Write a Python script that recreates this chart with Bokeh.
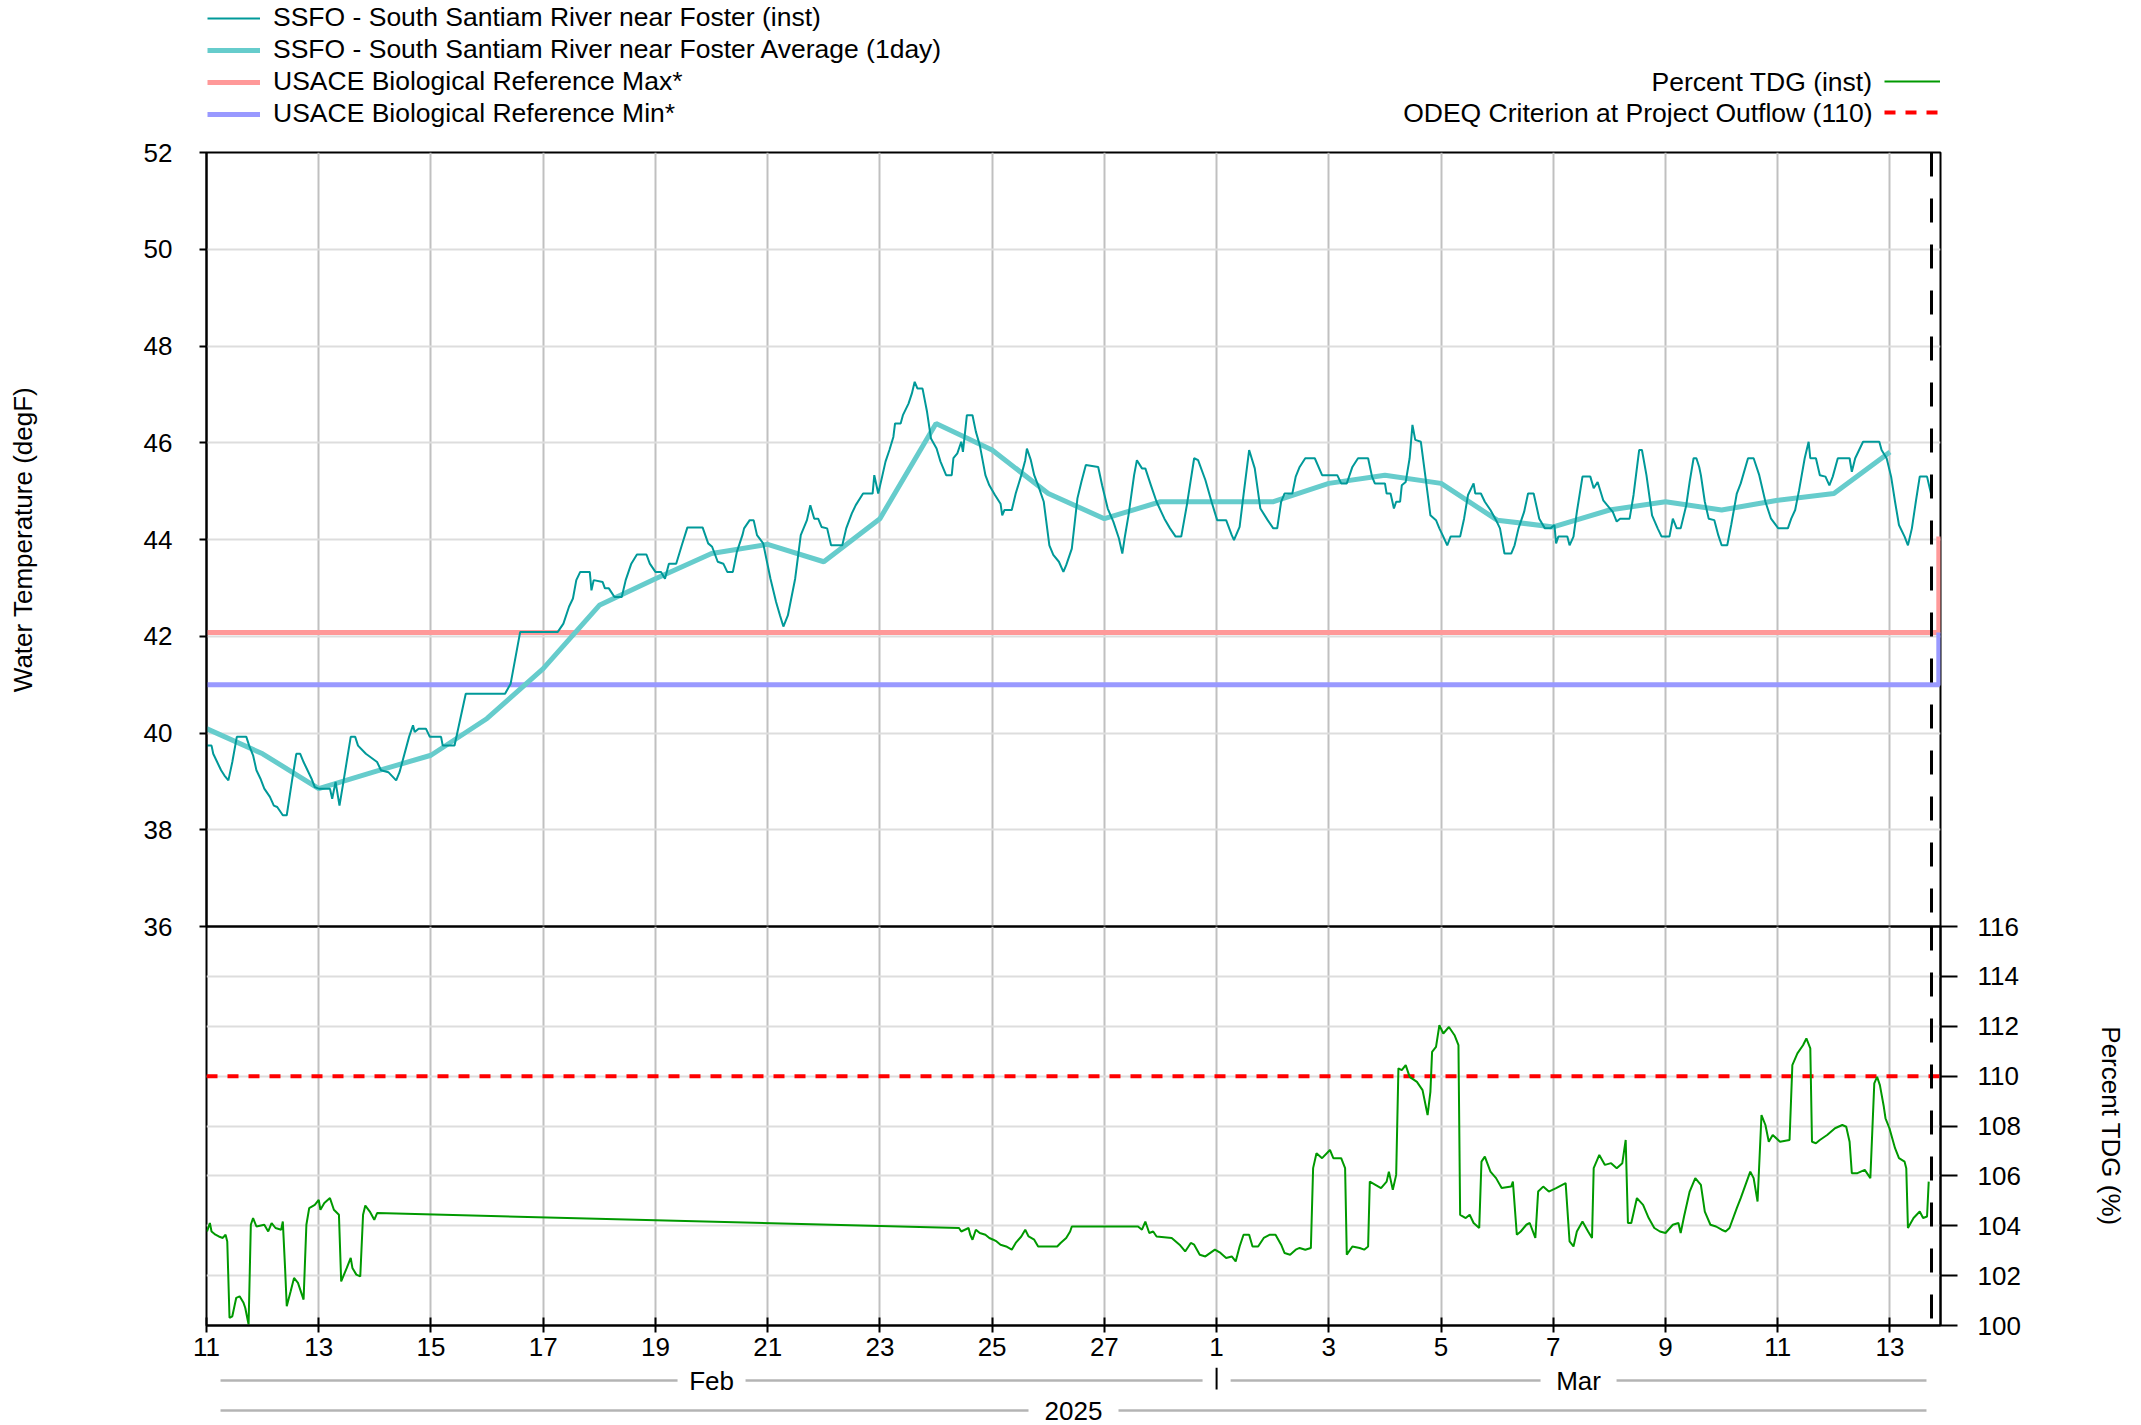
from datetime import datetime, timedelta
from bokeh.plotting import figure
from bokeh.layouts import column
from bokeh.models import (Range1d, FixedTicker, Span, Legend, LegendItem, Label,
                          Grid, CustomJSTickFormatter)
from bokeh.core.properties import value
from bokeh.embed import file_html
from bokeh.resources import INLINE

# ---------------- data ----------------
START = datetime(2025, 2, 11)
END_DAY = 30.90          # right edge of the plot (days after Feb 11)
NOW_DAY = 30.74          # dashed "now" marker

temp_inst_day = [
    0.01, 0.09, 0.12, 0.19, 0.26, 0.32, 0.39, 0.46, 0.54, 0.71, 0.76, 0.83, 0.89, 0.96, 1.03, 1.13,
    1.20, 1.26, 1.36, 1.43, 1.53, 1.60, 1.67, 1.73, 1.80, 1.87, 1.93, 2.00, 2.20, 2.24, 2.30, 2.37,
    2.44, 2.57, 2.65, 2.70, 2.84, 3.04, 3.11, 3.24, 3.38, 3.44, 3.61, 3.68, 3.71, 3.78, 3.91, 3.98,
    4.18, 4.21, 4.42, 4.62, 5.32, 5.42, 5.59, 6.26, 6.36, 6.46, 6.53, 6.59, 6.66, 6.83, 6.86, 6.90,
    7.06, 7.10, 7.17, 7.27, 7.40, 7.47, 7.57, 7.67, 7.84, 7.90, 8.00, 8.10, 8.17, 8.24, 8.37, 8.47,
    8.57, 8.84, 8.94, 9.01, 9.11, 9.21, 9.28, 9.38, 9.45, 9.55, 9.58, 9.68, 9.75, 9.81, 9.92, 10.05,
    10.15, 10.22, 10.28, 10.36, 10.49, 10.59, 10.70, 10.76, 10.83, 10.90, 10.96, 11.06, 11.13, 11.33,
    11.40, 11.50, 11.57, 11.70, 11.87, 11.90, 11.97, 12.04, 12.10, 12.17, 12.24, 12.27, 12.37, 12.41,
    12.51, 12.57, 12.62, 12.67, 12.76, 12.84, 12.91, 13.01, 13.08, 13.18, 13.28, 13.31, 13.38, 13.45,
    13.48, 13.55, 13.65, 13.71, 13.78, 13.88, 13.95, 14.05, 14.15, 14.18, 14.22, 14.35, 14.42, 14.52,
    14.59, 14.62, 14.69, 14.75, 14.82, 14.92, 15.02, 15.09, 15.19, 15.27, 15.32, 15.42, 15.52, 15.59,
    15.67, 15.89, 15.96, 16.06, 16.16, 16.26, 16.32, 16.36, 16.43, 16.53, 16.58, 16.67, 16.73, 16.83,
    16.93, 17.07, 17.17, 17.27, 17.37, 17.47, 17.60, 17.67, 17.80, 17.91, 18.01, 18.17, 18.27, 18.31,
    18.41, 18.48, 18.58, 18.68, 18.78, 18.91, 19.01, 19.08, 19.15, 19.21, 19.35, 19.41, 19.48, 19.58,
    19.75, 19.88, 20.15, 20.22, 20.32, 20.42, 20.52, 20.70, 20.77, 20.82, 21.00, 21.03, 21.10, 21.16,
    21.20, 21.27, 21.30, 21.37, 21.44, 21.49, 21.54, 21.64, 21.71, 21.81, 21.91, 21.97, 22.04, 22.11,
    22.17, 22.34, 22.41, 22.48, 22.58, 22.61, 22.71, 22.78, 22.88, 22.98, 23.05, 23.13, 23.25, 23.31,
    23.38, 23.48, 23.55, 23.65, 23.75, 23.85, 23.95, 24.02, 24.05, 24.09, 24.25, 24.29, 24.36, 24.42,
    24.52, 24.66, 24.72, 24.79, 24.89, 24.96, 25.06, 25.13, 25.19, 25.36, 25.43, 25.53, 25.58, 25.66,
    25.76, 25.86, 25.93, 26.07, 26.13, 26.20, 26.27, 26.37, 26.43, 26.50, 26.55, 26.60, 26.63, 26.70,
    26.77, 26.87, 26.94, 27.00, 27.10, 27.17, 27.27, 27.34, 27.47, 27.57, 27.67, 27.78, 27.88, 28.01,
    28.18, 28.24, 28.31, 28.38, 28.48, 28.55, 28.58, 28.68, 28.75, 28.85, 28.92, 28.98, 29.07, 29.28,
    29.32, 29.38, 29.45, 29.52, 29.81, 29.85, 29.94, 30.02, 30.09, 30.16, 30.26, 30.32, 30.39, 30.46,
    30.53, 30.66, 30.73]
temp_inst_val = [
    39.74, 39.74, 39.57, 39.40, 39.23, 39.12, 39.02, 39.40, 39.92, 39.92, 39.74, 39.54, 39.23, 39.06, 38.85, 38.68,
    38.50, 38.47, 38.30, 38.30, 39.06, 39.57, 39.57, 39.40, 39.23, 39.06, 38.88, 38.85, 38.85, 38.64, 38.99, 38.50,
    38.99, 39.92, 39.92, 39.74, 39.57, 39.40, 39.23, 39.19, 39.02, 39.19, 39.92, 40.16, 40.02, 40.09, 40.09, 39.92,
    39.92, 39.74, 39.74, 40.81, 40.81, 41.02, 42.09, 42.09, 42.26, 42.61, 42.78, 43.16, 43.33, 43.33, 42.95, 43.16,
    43.12, 42.99, 42.99, 42.81, 42.81, 43.16, 43.50, 43.69, 43.69, 43.50, 43.33, 43.33, 43.19, 43.50, 43.50, 43.88,
    44.25, 44.25, 43.92, 43.85, 43.54, 43.50, 43.33, 43.33, 43.74, 44.09, 44.23, 44.40, 44.40, 44.09, 43.92, 43.19,
    42.71, 42.43, 42.20, 42.43, 43.19, 44.09, 44.40, 44.71, 44.43, 44.43, 44.26, 44.23, 43.88, 43.88,
    44.23, 44.54, 44.71, 44.95, 44.95, 45.33, 44.95, 45.30, 45.61, 45.85, 46.12, 46.40, 46.40, 46.57,
    46.81, 47.02, 47.26, 47.12, 47.12, 46.64, 46.09, 45.88, 45.61, 45.33, 45.33, 45.68, 45.78, 46.02,
    45.81, 46.57, 46.57, 46.23, 45.95, 45.33, 45.12, 44.92, 44.74, 44.50, 44.61, 44.61, 44.95, 45.33,
    45.64, 45.88, 45.64, 45.33, 45.12, 44.78, 43.88, 43.68, 43.54, 43.33, 43.47, 43.81, 44.85, 45.19,
    45.54, 45.50, 45.12, 44.64, 44.37, 44.02, 43.71, 44.02, 44.50, 45.33, 45.64, 45.47, 45.47, 45.12,
    44.78, 44.43, 44.23, 44.06, 44.06, 44.71, 45.68, 45.64, 45.23, 44.78, 44.40, 44.40, 44.09, 43.99,
    44.26, 44.92, 45.85, 45.47, 44.64, 44.40, 44.23, 44.23, 44.78, 44.95, 44.95, 45.30, 45.50, 45.68,
    45.68, 45.33, 45.33, 45.16, 45.16, 45.50, 45.68, 45.68, 45.30, 45.16, 45.16, 44.95, 44.95, 44.64,
    44.78, 44.78, 45.12, 45.19, 45.68, 46.37, 46.06, 46.02, 45.40, 44.50, 44.40, 44.23, 44.06, 43.88,
    44.06, 44.06, 44.43, 44.92, 45.16, 44.95, 44.95, 44.78, 44.61, 44.40, 44.23, 43.71, 43.71, 43.88,
    44.23, 44.57, 44.95, 44.95, 44.43, 44.23, 44.23, 44.30, 43.92, 44.06, 44.06, 43.88, 44.06, 44.57,
    45.30, 45.30, 45.06, 45.19, 44.81, 44.71, 44.57, 44.37, 44.43, 44.43, 44.92, 45.85, 45.85, 45.33,
    44.50, 44.23, 44.06, 44.06, 44.43, 44.23, 44.23, 44.71, 45.19, 45.68, 45.68, 45.50, 45.33, 44.78,
    44.43, 44.40, 44.09, 43.88, 43.88, 44.30, 44.95, 45.16, 45.68, 45.68, 45.33, 44.78, 44.43, 44.23,
    44.23, 44.43, 44.61, 45.02, 45.68, 46.02, 45.68, 45.68, 45.33, 45.30, 45.12, 45.30, 45.68, 45.68,
    45.40, 45.68, 45.85, 46.02, 46.02, 45.85, 45.68, 45.30, 44.78, 44.30, 44.06, 43.88, 44.23, 44.78,
    45.30, 45.30, 44.95]

temp_avg_day = list(range(31))
temp_avg_val = [40.09, 39.57, 38.85, 39.20, 39.54, 40.30, 41.33, 42.64, 43.19, 43.71, 43.90,
                43.54, 44.43, 46.40, 45.85, 44.95, 44.43, 44.78, 44.78, 44.78, 45.16, 45.33,
                45.16, 44.40, 44.26, 44.61, 44.78, 44.61, 44.81, 44.95, 45.81]

ref_max_day = [0.0, 30.87, 30.87]
ref_max_val = [42.08, 42.08, 44.06]
ref_min_day = [0.0, 30.87, 30.87]
ref_min_val = [41.0, 41.0, 42.08]

tdg_day = [
    0.01, 0.06, 0.09, 0.16, 0.22, 0.29, 0.34, 0.37, 0.41, 0.46, 0.53, 0.59, 0.66, 0.69, 0.75, 0.79,
    0.83, 0.89, 1.03, 1.10, 1.16, 1.23, 1.33, 1.36, 1.40, 1.43, 1.50, 1.56, 1.63, 1.70, 1.73, 1.78,
    1.83, 1.93, 2.00, 2.03, 2.10, 2.20, 2.27, 2.36, 2.40, 2.50, 2.57, 2.60, 2.67, 2.74, 2.79, 2.83,
    2.91, 2.99, 3.04,
    13.41, 13.45, 13.58, 13.61, 13.65, 13.71, 13.78, 13.88, 13.95, 14.02, 14.08, 14.15, 14.25, 14.35,
    14.42, 14.52, 14.59, 14.65, 14.75, 14.82, 15.16, 15.22, 15.32, 15.39, 15.42, 16.60, 16.67, 16.73,
    16.80, 16.87, 16.93, 17.20, 17.34, 17.44, 17.54, 17.60, 17.70, 17.80, 17.97, 18.07, 18.17, 18.27,
    18.34, 18.41, 18.48, 18.58, 18.64, 18.74, 18.84, 18.95, 19.05, 19.15, 19.21, 19.31, 19.41, 19.48,
    19.58, 19.68, 19.72, 19.78, 19.88, 20.02, 20.08, 20.22, 20.29, 20.32, 20.42, 20.55, 20.63, 20.70,
    20.73, 20.83, 20.93, 21.03, 21.07, 21.14, 21.20, 21.24, 21.30, 21.37, 21.44, 21.57, 21.67, 21.76,
    21.81, 21.84, 21.91, 21.97, 22.04, 22.14, 22.24, 22.31, 22.34, 22.44, 22.51, 22.58, 22.68, 22.72,
    22.78, 22.88, 22.98, 23.08, 23.25, 23.28, 23.35, 23.42, 23.52, 23.58, 23.68, 23.73, 23.82, 23.92,
    24.05, 24.22, 24.29, 24.36, 24.42, 24.52, 24.62, 24.69, 24.72, 24.82, 24.92, 25.03, 25.13, 25.23,
    25.29, 25.33, 25.39, 25.49, 25.60, 25.70, 25.80, 25.90, 26.00, 26.13, 26.23, 26.27, 26.33, 26.43,
    26.53, 26.63, 26.70, 26.80, 26.90, 27.00, 27.07, 27.14, 27.27, 27.34, 27.51, 27.57, 27.64, 27.71,
    27.78, 27.84, 27.91, 28.04, 28.21, 28.26, 28.35, 28.45, 28.51, 28.58, 28.61, 28.68, 28.75, 28.88,
    29.02, 29.15, 29.22, 29.28, 29.32, 29.42, 29.55, 29.65, 29.72, 29.77, 29.82, 29.89, 29.92, 29.99,
    30.09, 30.16, 30.26, 30.29, 30.32, 30.42, 30.53, 30.59, 30.66, 30.69]
tdg_val = [
    103.77, 104.11, 103.77, 103.64, 103.57, 103.51, 103.64, 103.37, 100.31, 100.37, 101.11, 101.17, 100.91, 100.71, 100.04, 104.04,
    104.31, 103.97, 104.04, 103.77, 104.11, 103.91, 103.84, 104.17, 102.31, 100.77, 101.37, 101.91, 101.71, 101.24, 101.04, 104.04,
    104.71, 104.84, 105.04, 104.64, 104.91, 105.11, 104.64, 104.44, 101.77, 102.31, 102.71, 102.31, 102.04, 101.97, 104.44, 104.81,
    104.57, 104.24, 104.51,
    103.91, 103.77, 103.91, 103.64, 103.44, 103.84, 103.71, 103.64, 103.51, 103.44, 103.37, 103.24, 103.17, 103.04,
    103.31, 103.57, 103.84, 103.57, 103.44, 103.17, 103.17, 103.31, 103.51, 103.77, 103.97, 103.97, 103.84, 104.17,
    103.71, 103.77, 103.57, 103.51, 103.24, 102.97, 103.31, 103.24, 102.84, 102.77, 103.04, 102.91, 102.71, 102.77,
    102.57, 103.17, 103.64, 103.64, 103.17, 103.17, 103.51, 103.64, 103.64, 103.24, 102.91, 102.84, 103.04, 103.11,
    103.04, 103.11, 106.31, 106.91, 106.71, 107.04, 106.71, 106.71, 106.31, 102.84, 103.17, 103.11, 103.04, 103.17,
    105.77, 105.64, 105.51, 105.77, 106.17, 105.44, 106.04, 110.31, 110.24, 110.44, 109.97, 109.77, 109.44, 108.44,
    109.37, 110.97, 111.17, 112.04, 111.71, 111.97, 111.64, 111.24, 104.44, 104.31, 104.44, 104.11, 103.91, 106.57,
    106.77, 106.17, 105.91, 105.51, 105.57, 105.77, 103.64, 103.77, 104.04, 104.11, 103.51, 105.37, 105.57, 105.37,
    105.51, 105.71, 103.37, 103.17, 103.77, 104.17, 103.77, 103.51, 106.31, 106.84, 106.44, 106.51, 106.31, 106.51,
    107.44, 104.11, 104.11, 105.11, 104.84, 104.31, 103.91, 103.77, 103.71, 104.04, 104.11, 103.71, 104.37, 105.37,
    105.91, 105.64, 104.57, 104.04, 103.97, 103.84, 103.77, 103.91, 104.71, 105.11, 106.17, 105.91, 104.97, 108.44,
    108.04, 107.37, 107.64, 107.37, 107.44, 110.44, 110.91, 111.24, 111.51, 111.11, 107.37, 107.31, 107.44, 107.64,
    107.91, 108.04, 107.97, 107.37, 106.11, 106.11, 106.24, 105.91, 109.71, 109.97, 109.64, 108.77, 108.31, 107.91,
    107.11, 106.71, 106.57, 106.31, 103.91, 104.31, 104.57, 104.31, 104.37, 105.77]

odeq_day = [0.0, END_DAY]
odeq_val = [110.0, 110.0]

temp_ticks = [36, 38, 40, 42, 44, 46, 48, 50, 52]
tdg_ticks = [100, 102, 104, 106, 108, 110, 112, 114, 116]
date_tick_day = list(range(0, 31, 2))   # Feb 11, 13, ... Mar 13

month_labels = ["Feb", "Mar"]
month_start_day = [0.0, 18.0]
month_end_day = [18.0, END_DAY]
year_label = "2025"

legend_left_labels = ["SSFO - South Santiam River near Foster (inst)",
                      "SSFO - South Santiam River near Foster Average (1day)",
                      "USACE Biological Reference Max*",
                      "USACE Biological Reference Min*"]
legend_right_labels = ["Percent TDG (inst)", "ODEQ Criterion at Project Outflow (110)"]

# ---------------- styling ----------------
FONT = "Liberation Sans"
W = 2141
ML, MR = 206, 201
FRAME_W = W - ML - MR
PX_PER_DAY = FRAME_W / END_DAY
C_INST = "#009999"
C_AVG = "#66cccc"
C_MAX = "#ff9999"
C_MIN = "#9999ff"
C_TDG = "#009900"
C_ODEQ = "#ff0000"
VGRID = "#c0c0c0"
HGRID = "#dddddd"
OVER = 15   # canvases overlap so labels on shared edges are not cut
NAN = float("nan")


def dt(d):
    return START + timedelta(days=d)


def ms(d):
    return (dt(d) - datetime(1970, 1, 1)).total_seconds() * 1000.0


def dts(days):
    return [dt(d) for d in days]


xr = Range1d(dt(0), dt(END_DAY))
x_tick_ms = [ms(d) for d in date_tick_day]

# ---------------- legend strip on top (frame spans x 206..1940, y 0..152) ----------------
LG_H = 152
lg = figure(width=W, height=LG_H, x_range=Range1d(0, 1), y_range=Range1d(0, 1),
            x_axis_location=None, y_axis_location=None, title=None,
            output_backend="svg", toolbar_location=None,
            min_border_left=ML, min_border_right=MR, min_border_top=0, min_border_bottom=0)
lg.outline_line_color = None
lg.grid.visible = False
# legend keys (proxies of the series drawn in the panels below)
q_inst = lg.line([NAN], [NAN], line_color=C_INST, line_width=2)
q_avg = lg.line([NAN], [NAN], line_color=C_AVG, line_width=5)
q_max = lg.line([NAN], [NAN], line_color=C_MAX, line_width=5)
q_min = lg.line([NAN], [NAN], line_color=C_MIN, line_width=5)
q_tdg = lg.line([NAN], [NAN], line_color=C_TDG, line_width=2)
q_odeq = lg.line([NAN], [NAN], line_color=C_ODEQ, line_width=4, line_dash="11 10")

leg_left = Legend(items=[LegendItem(label=value(t), renderers=[r]) for t, r in
                         zip(legend_left_labels, [q_inst, q_avg, q_max, q_min])],
                  location=(1, LG_H - 129))
leg_right = Legend(items=[LegendItem(label=value(" "), renderers=[r]) for r in [q_tdg, q_odeq]],
                   location=(1678, LG_H - 127))
for L, gw in ((leg_left, 53), (leg_right, 56)):
    L.label_text_font = FONT
    L.label_text_font_size = "26.5px"
    L.label_text_color = "black"
    L.glyph_width = gw
    L.glyph_height = 30
    L.label_height = 30
    L.label_standoff = 13
    L.spacing = 1
    L.padding = 0
    L.margin = 0
    L.border_line_color = None
    L.background_fill_alpha = 0
    lg.add_layout(L)
for txt, yy in zip(legend_right_labels, (LG_H - 81, LG_H - 112)):
    lg.add_layout(Label(x=1666, y=yy, x_units="screen", y_units="screen", text=txt,
                        text_align="right", text_baseline="middle", text_font=FONT,
                        text_font_size="26.5px", text_color="black"))

# ---------------- upper panel: water temperature ----------------
up = figure(width=W, height=OVER + 774 + OVER, x_range=xr, y_range=Range1d(36, 52),
            x_axis_type="datetime", x_axis_location=None, title=None,
            output_backend="svg", toolbar_location=None,
            min_border_left=ML, min_border_right=MR, min_border_top=OVER, min_border_bottom=OVER)
up.margin = (-OVER, 0, 0, 0)
up.border_fill_color = None
up.outline_line_color = "black"
up.outline_line_width = 2

ya = up.yaxis[0]
ya.ticker = FixedTicker(ticks=temp_ticks)
ya.axis_label = "Water Temperature (degF)"
ya.axis_label_text_font = FONT
ya.axis_label_text_font_size = "26px"
ya.axis_label_text_font_style = "normal"
ya.axis_label_text_color = "black"
ya.axis_label_standoff = 103
ya.major_label_text_font = FONT
ya.major_label_text_font_size = "26px"
ya.major_label_text_color = "black"
ya.major_label_standoff = 27
ya.major_tick_out = 7
ya.major_tick_in = 0
ya.major_tick_line_width = 2
ya.minor_tick_line_color = None
ya.axis_line_width = 2
up.ygrid.ticker = FixedTicker(ticks=temp_ticks)
up.ygrid.grid_line_color = HGRID
up.ygrid.grid_line_width = 2
xgrids = [g for g in up.center if isinstance(g, Grid) and g.dimension == 0]
if not xgrids:
    g = Grid(dimension=0)
    up.add_layout(g)
    xgrids = [g]
for g in xgrids:
    g.ticker = FixedTicker(ticks=x_tick_ms)
    g.grid_line_color = VGRID
    g.grid_line_width = 2

up.line(dts(ref_max_day), ref_max_val, line_color=C_MAX, line_width=5)
up.line(dts(ref_min_day), ref_min_val, line_color=C_MIN, line_width=5)
up.line(dts(temp_avg_day), temp_avg_val, line_color=C_AVG, line_width=5)
up.line(dts(temp_inst_day), temp_inst_val, line_color=C_INST, line_width=2)
up.add_layout(Span(location=ms(NOW_DAY), dimension="height", line_color="black",
                   line_width=3, line_dash="24 22"))

# ---------------- lower panel: percent TDG ----------------
LO_BOT = 42
lo = figure(width=W, height=OVER + 399 + LO_BOT, x_range=xr, y_range=Range1d(100, 116),
            x_axis_type="datetime", y_axis_location="right", title=None,
            output_backend="svg", toolbar_location=None,
            min_border_left=ML, min_border_right=MR, min_border_top=OVER, min_border_bottom=LO_BOT)
lo.margin = (-2 * OVER, 0, 0, 0)
lo.border_fill_color = None
lo.background_fill_color = None
lo.outline_line_color = "black"
lo.outline_line_width = 2

xa = lo.xaxis[0]
xa.ticker = FixedTicker(ticks=x_tick_ms)
xa.formatter = CustomJSTickFormatter(code="return String(new Date(tick).getUTCDate());")
xa.major_label_text_font = FONT
xa.major_label_text_font_size = "26px"
xa.major_label_text_color = "black"
xa.major_label_standoff = 5
xa.major_tick_in = 8
xa.major_tick_out = 7
xa.major_tick_line_width = 2
xa.minor_tick_line_color = None
xa.axis_line_width = 2

yb = lo.yaxis[0]
yb.ticker = FixedTicker(ticks=tdg_ticks)
yb.axis_label = "Percent TDG (%)"
yb.axis_label_text_font = FONT
yb.axis_label_text_font_size = "26px"
yb.axis_label_text_font_style = "normal"
yb.axis_label_text_color = "black"
yb.axis_label_standoff = 72
yb.major_label_text_font = FONT
yb.major_label_text_font_size = "26px"
yb.major_label_text_color = "black"
yb.major_label_standoff = 20
yb.major_tick_out = 17
yb.major_tick_in = 0
yb.major_tick_line_width = 2
yb.minor_tick_line_color = None
yb.axis_line_width = 2

lo.xgrid.ticker = FixedTicker(ticks=x_tick_ms)
lo.xgrid.grid_line_color = VGRID
lo.xgrid.grid_line_width = 2
lo.ygrid.ticker = FixedTicker(ticks=tdg_ticks)
lo.ygrid.grid_line_color = HGRID
lo.ygrid.grid_line_width = 2

lo.line(dts(odeq_day), odeq_val, line_color=C_ODEQ, line_width=4, line_dash="11 10")
lo.line(dts(tdg_day), tdg_val, line_color=C_TDG, line_width=2)
lo.add_layout(Span(location=ms(NOW_DAY), dimension="height", line_color="black",
                   line_width=3, line_dash="24 22"))

# ---------------- month / year strip ----------------
ST_H = 58
ROW_PX = 30       # px between the month row and the year row
TOP_PX = 13       # px from the strip top to the month row
st = figure(width=W, height=ST_H, x_range=xr,
            y_range=Range1d(1 + TOP_PX / ROW_PX - ST_H / ROW_PX, 1 + TOP_PX / ROW_PX),
            x_axis_type="datetime", x_axis_location=None, y_axis_location=None, title=None,
            output_backend="svg", toolbar_location=None,
            min_border_left=ML, min_border_right=MR, min_border_top=0, min_border_bottom=0)
st.outline_line_color = None
st.grid.visible = False

PAD_D = 0.25
half_gap_px = {"Feb": 34, "Mar": 38, "2025": 45}

seg_x0, seg_x1, seg_y = [], [], []
lab_x, lab_y, lab_t = [], [], []
rows = [(m, s, e, 1.0) for m, s, e in zip(month_labels, month_start_day, month_end_day)]
rows.append((year_label, month_start_day[0], month_end_day[-1], 0.0))
for name, s, e, row in rows:
    c = (s + e) / 2.0
    gp = half_gap_px[name] / PX_PER_DAY
    seg_x0 += [dt(s + PAD_D), dt(c + gp)]
    seg_x1 += [dt(c - gp), dt(e - PAD_D)]
    seg_y += [row, row]
    lab_x.append(dt(c))
    lab_y.append(row)
    lab_t.append(name)

st.segment(x0=seg_x0, y0=seg_y, x1=seg_x1, y1=seg_y, line_color="#b4b4b4", line_width=2.5)
st.segment(x0=[dt(month_start_day[1])], y0=[1 + TOP_PX / ROW_PX],
           x1=[dt(month_start_day[1])], y1=[1 - 9 / ROW_PX],
           line_color="black", line_width=2)
st.text(x=lab_x, y=lab_y, text=lab_t, text_font=value(FONT), text_font_size="26px",
        text_align="center", text_baseline="middle", text_color="black")

layout = column(lg, up, lo, st, spacing=0)
open("out.html", "w").write(file_html(layout, INLINE))
